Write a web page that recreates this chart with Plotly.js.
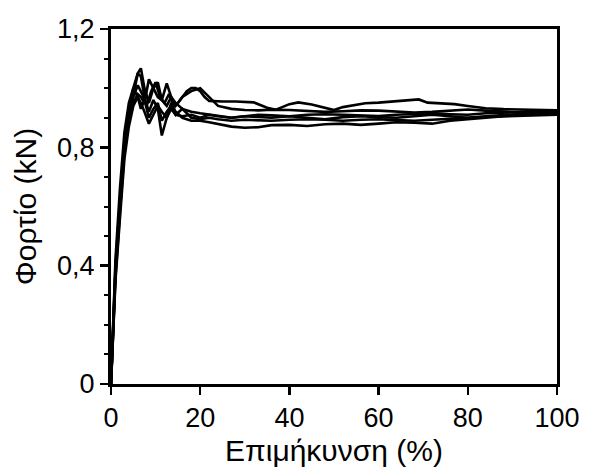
<!DOCTYPE html>
<html>
<head>
<meta charset="utf-8">
<script src="https://cdn.plot.ly/plotly-3.0.1.min.js"></script>
<style>html,body{margin:0;padding:0;background:#fff;}#chart{width:590px;height:473px;}</style>
</head>
<body>
<div id="chart"></div>
<script>
// Elongation (%) sample points
const x1 = [0,0.4,1,2,3,4,5,6,7,8,9,10,11,12,13,14,15,16,17,18,19,20,21,22,23,25,28,30,32,35,37,40,42,45,48,50,52,55,57,60,63,66,69,71,74,77,80,84,88,92,96,100];
const y1 = [0,0.15,0.38,0.6,0.8,0.91,0.97,1.01,0.98,0.94,0.99,1.02,0.97,0.95,0.98,0.94,0.95,0.97,0.99,1.0,1.0,0.99,0.97,0.957,0.956,0.955,0.955,0.954,0.952,0.934,0.927,0.946,0.952,0.945,0.934,0.926,0.936,0.944,0.949,0.951,0.955,0.958,0.962,0.951,0.948,0.946,0.94,0.932,0.929,0.928,0.927,0.925];

const xs = [0,0.4,1,2,3,4,5,6,6.7,7.5,8.5,9.5,10.5,11.4,12.5,13.5,14.5,16,18,20,22,24,27,30,33,36,40,44,48,52,56,60,64,68,72,76,80,84,88,92,96,100];
const y2 = [0,0.16,0.4,0.62,0.82,0.93,1.0,1.05,1.067,1.0,0.95,1.0,1.02,0.96,0.94,0.97,0.95,0.93,0.92,0.915,0.91,0.905,0.9,0.905,0.91,0.908,0.905,0.91,0.912,0.91,0.908,0.906,0.91,0.912,0.915,0.912,0.91,0.915,0.918,0.92,0.922,0.92];
const y3 = [0,0.14,0.36,0.58,0.78,0.9,0.98,1.05,1.04,0.97,0.92,0.96,0.93,0.84,0.9,0.95,0.92,0.9,0.89,0.89,0.885,0.88,0.87,0.866,0.868,0.875,0.876,0.872,0.878,0.88,0.876,0.88,0.885,0.883,0.88,0.89,0.895,0.9,0.905,0.91,0.912,0.915];
const y4 = [0,0.15,0.38,0.6,0.8,0.9,0.95,0.98,0.97,0.95,1.03,1.0,0.97,0.96,1.016,0.97,0.94,0.97,0.99,1.0,0.97,0.94,0.93,0.926,0.925,0.927,0.926,0.923,0.92,0.922,0.925,0.924,0.92,0.918,0.92,0.925,0.928,0.924,0.92,0.918,0.92,0.918];
const y5 = [0,0.17,0.42,0.66,0.85,0.95,1.0,0.97,0.93,0.96,0.9,0.93,0.95,0.89,0.92,0.94,0.91,0.93,0.9,0.895,0.9,0.895,0.89,0.893,0.892,0.89,0.893,0.895,0.893,0.89,0.893,0.895,0.892,0.89,0.893,0.897,0.9,0.903,0.905,0.907,0.91,0.91];
const y6 = [0,0.13,0.35,0.56,0.76,0.87,0.94,0.97,0.95,0.92,0.88,0.91,0.94,0.92,0.9,0.93,0.91,0.905,0.91,0.9,0.91,0.905,0.9,0.905,0.903,0.9,0.905,0.9,0.895,0.902,0.905,0.902,0.9,0.905,0.91,0.905,0.9,0.905,0.91,0.913,0.915,0.918];

const xTickVals = [0,20,40,60,80,100];
const xTickText = ["0","20","40","60","80","100"];
const yTickVals = [0,0.4,0.8,1.2];
const yTickText = ["0","0,4","0,8","1,2"];

const line = {color:'#000', width:2.6};
const traces = [
  {x:x1, y:y1},
  {x:xs, y:y2},
  {x:xs, y:y3},
  {x:xs, y:y4},
  {x:xs, y:y5},
  {x:xs, y:y6}
].map(t => Object.assign(t, {type:'scatter', mode:'lines', line:line, showlegend:false, hoverinfo:'skip'}));

const font = {family:'Liberation Sans, Arial, sans-serif', color:'#000'};
const layout = {
  width:590, height:473,
  margin:{l:111, r:33, t:29, b:89},
  paper_bgcolor:'#fff', plot_bgcolor:'#fff',
  font:Object.assign({size:27}, font),
  xaxis:{
    range:[0,100], showgrid:false, zeroline:false,
    showline:true, mirror:true, linecolor:'#000', linewidth:3,
    ticks:'outside', ticklen:8, tickwidth:2.5, tickcolor:'#000',
    tickvals:xTickVals, ticktext:xTickText,
    tickfont:Object.assign({size:27}, font),
    title:{text:'Επιμήκυνση (%)', font:Object.assign({size:30}, font), standoff:8}
  },
  yaxis:{
    range:[0,1.2], showgrid:false, zeroline:false,
    showline:true, mirror:true, linecolor:'#000', linewidth:3,
    ticks:'outside', ticklen:8, tickwidth:2.5, tickcolor:'#000',
    tickvals:yTickVals, ticktext:yTickText,
    tickfont:Object.assign({size:27}, font),
    minor:{ticks:'outside', ticklen:4, tickwidth:2, tickcolor:'#000', dtick:0.1},
    title:{text:'Φορτίο (kN)', font:Object.assign({size:30}, font), standoff:12}
  }
};
Plotly.newPlot('chart', traces, layout, {staticPlot:true, displayModeBar:false});
</script>
</body>
</html>
